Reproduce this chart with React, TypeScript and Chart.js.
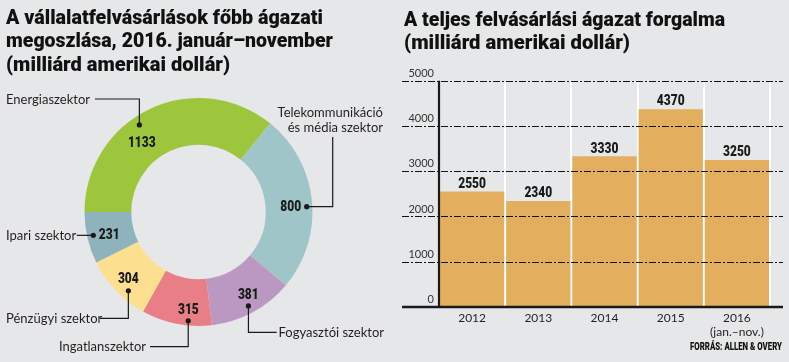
import React, { useEffect, useLayoutEffect, useRef } from 'react';
import { Chart, registerables } from 'chart.js';

Chart.register(...registerables);

// ---------- DATA ----------
const sectors: string[][] = [
  ['Energiaszektor'],
  ['Telekommunikáció', 'és média szektor'],
  ['Fogyasztói szektor'],
  ['Ingatlanszektor'],
  ['Pénzügyi szektor'],
  ['Ipari szektor'],
];
const sectorValues = [1133, 800, 381, 315, 304, 231];
const sectorColors = ['#9dc63c', '#a0c5c8', '#bb98c2', '#e97f86', '#fde08f', '#8fb3bc'];

const years: (string | string[])[] = ['2012', '2013', '2014', '2015', ['2016', '(jan.–nov.)']];
const turnover = [2550, 2340, 3330, 4370, 3250];
const yTickValues = [0, 1000, 2000, 3000, 4000, 5000];

const leftTitle = ['A vállalatfelvásárlások főbb ágazati', 'megoszlása, 2016. január–november', '(milliárd amerikai dollár)'];
const rightTitle = ['A teljes felvásárlási ágazat forgalma', '(milliárd amerikai dollár)'];
const sourceText = 'FORRÁS: ALLEN & OVERY';

// ---------- LAYOUT (annotation placement only) ----------
type Move = ['x' | 'y', number];
const DONUT_LAYOUT: { val: [number, number]; dot: [number, number]; path: Move[]; tx: number; ty: number[]; align: CanvasTextAlign }[] = [
  { val: [320.4, 0.78], dot: [325.8, 0.923], path: [['y', 99], ['x', 95]], tx: 6, ty: [99.5], align: 'left' },
  { val: [87.1, 0.81], dot: [87.2, 0.95], path: [['x', 332.7], ['y', 137]], tx: 383, ty: [112.7, 127.7], align: 'right' },
  { val: [149, 0.849], dot: [152, 0.933], path: [['y', 332.3], ['x', 276.7]], tx: 278.5, ty: [332], align: 'left' },
  { val: [185.9, 0.864], dot: [185.4, 0.958], path: [['y', 346.7], ['x', 150]], tx: 146, ty: [346.7], align: 'right' },
  { val: [226.2, 0.853], dot: [221.7, 0.925], path: [['y', 318.3], ['x', 100]], tx: 6, ty: [318], align: 'left' },
  { val: [255.4, 0.809], dot: [257.5, 0.945], path: [['x', 76.7]], tx: 6, ty: [235.3], align: 'left' },
];

const INK = '#1a1a1a';

function drawScaledText(
  ctx: CanvasRenderingContext2D,
  text: string,
  x: number,
  y: number,
  align: CanvasTextAlign,
  font: string,
  sx: number,
  color: string
) {
  ctx.save();
  ctx.font = font;
  ctx.fillStyle = color;
  ctx.textAlign = align;
  ctx.textBaseline = 'middle';
  ctx.translate(x, y);
  ctx.scale(sx, 1);
  ctx.fillText(text, 0, 0);
  ctx.restore();
}

const donutPlugin = {
  id: 'donutLabels',
  afterDatasetsDraw(chart: any) {
    const ctx: CanvasRenderingContext2D = chart.ctx;
    const meta = chart.getDatasetMeta(0);
    const arc0: any = meta.data[0];
    const cx = arc0.x;
    const cy = arc0.y;
    const R = arc0.outerRadius;
    const polar = (deg: number, f: number) => {
      const a = (deg * Math.PI) / 180;
      return { x: cx + R * f * Math.sin(a), y: cy - R * f * Math.cos(a) };
    };
    ctx.save();
    DONUT_LAYOUT.forEach((L, i) => {
      const v = polar(L.val[0], L.val[1]);
      drawScaledText(ctx, String(sectorValues[i]), v.x, v.y, 'center', '900 15px Roboto', 0.8, INK);
      const d = polar(L.dot[0], L.dot[1]);
      ctx.beginPath();
      ctx.moveTo(d.x, d.y);
      let px = d.x;
      let py = d.y;
      L.path.forEach(([k, val]) => {
        if (k === 'x') px = val;
        else py = val;
        ctx.lineTo(px, py);
      });
      ctx.strokeStyle = INK;
      ctx.lineWidth = 1.2;
      ctx.setLineDash([]);
      ctx.stroke();
      ctx.beginPath();
      ctx.arc(d.x, d.y, 2.6, 0, Math.PI * 2);
      ctx.fillStyle = INK;
      ctx.fill();
      sectors[i].forEach((line, j) => {
        drawScaledText(ctx, line, L.tx, L.ty[j], L.align, '14px Lato', 0.93, '#231f20');
      });
    });
    ctx.restore();
  },
};

const barPlugin = {
  id: 'barDecor',
  afterDatasetsDraw(chart: any) {
    const ctx: CanvasRenderingContext2D = chart.ctx;
    const { left, right, top, bottom } = chart.chartArea;
    const yScale = chart.scales.y;
    ctx.save();
    // dash-dot gridlines drawn over bars
    ctx.strokeStyle = '#111';
    ctx.lineWidth = 1;
    ctx.setLineDash([7, 2, 2, 2]);
    yTickValues.forEach((v) => {
      const y = Math.round(yScale.getPixelForValue(v)) + 0.5;
      ctx.beginPath();
      ctx.moveTo(left - 37, y);
      ctx.lineTo(right + 13, y);
      ctx.stroke();
    });
    ctx.setLineDash([]);
    // axes
    ctx.strokeStyle = INK;
    ctx.lineWidth = 2.2;
    ctx.beginPath();
    ctx.moveTo(left, top);
    ctx.lineTo(left, bottom);
    ctx.stroke();
    ctx.lineWidth = 2.5;
    ctx.beginPath();
    ctx.moveTo(left - 37, bottom);
    ctx.lineTo(right + 13, bottom);
    ctx.stroke();
    // value labels
    const meta = chart.getDatasetMeta(0);
    meta.data.forEach((el: any, i: number) => {
      drawScaledText(ctx, String(turnover[i]), el.x, el.y - 7.5, 'center', '900 15px Roboto', 0.8, INK);
    });
    ctx.restore();
  },
};

function FitText({ text, left, top, width, size, weight }: { text: string; left: number; top: number; width: number; size: number; weight: number }) {
  const ref = useRef<HTMLSpanElement>(null);
  useLayoutEffect(() => {
    const el = ref.current;
    if (!el) return;
    el.style.transform = 'none';
    const w = el.getBoundingClientRect().width;
    if (w > 0) el.style.transform = `scaleX(${width / w})`;
  }, [text, width]);
  return (
    <span
      ref={ref}
      style={{
        position: 'absolute',
        left,
        top,
        whiteSpace: 'nowrap',
        transformOrigin: '0 0',
        fontFamily: 'Roboto, sans-serif',
        fontWeight: weight,
        fontSize: size,
        lineHeight: `${size}px`,
        color: '#111',
      }}
    >
      {text}
    </span>
  );
}

function DonutChart() {
  const ref = useRef<HTMLCanvasElement>(null);
  useEffect(() => {
    if (!ref.current) return;
    const chart = new Chart(ref.current, {
      type: 'doughnut',
      data: {
        labels: sectors.map((s) => s.join(' ')),
        datasets: [{ data: sectorValues, backgroundColor: sectorColors, borderWidth: 0 }],
      },
      options: {
        responsive: false,
        animation: false,
        rotation: -90,
        cutout: '59%',
        layout: { padding: { left: 84, right: 87, top: 98, bottom: 36 } },
        plugins: { legend: { display: false }, tooltip: { enabled: false } },
      },
      plugins: [donutPlugin],
    } as any);
    return () => chart.destroy();
  }, []);
  return <canvas ref={ref} width={400} height={362} style={{ position: 'absolute', left: 0, top: 0, width: 400, height: 362 }} />;
}

function BarChart() {
  const ref = useRef<HTMLCanvasElement>(null);
  useEffect(() => {
    if (!ref.current) return;
    const chart = new Chart(ref.current, {
      type: 'bar',
      data: {
        labels: years,
        datasets: [
          {
            data: turnover,
            backgroundColor: '#e3ae5e',
            borderWidth: 0,
            barPercentage: 1,
            categoryPercentage: 0.97,
          },
        ],
      },
      options: {
        responsive: false,
        animation: false,
        layout: { padding: { left: 0, right: 19, top: 80.7, bottom: 0 } },
        plugins: { legend: { display: false }, tooltip: { enabled: false } },
        scales: {
          x: {
            offset: true,
            grid: { display: true, offset: true, color: '#ffffff', lineWidth: 2, drawTicks: false },
            border: { display: false },
            ticks: { padding: 4, color: '#231f20', font: { family: 'Lato', size: 12 } },
            afterFit: (s: any) => {
              s.height = 55;
            },
          },
          y: {
            min: 0,
            max: 5000,
            grid: { display: false, drawTicks: false },
            border: { display: false },
            ticks: {
              stepSize: 1000,
              padding: 5,
              labelOffset: -7.5,
              color: '#333',
              font: { family: 'Lato', size: 11 },
              callback: (v: any) => String(v),
            },
            afterFit: (s: any) => {
              s.width = 39;
            },
          },
        },
      },
      plugins: [barPlugin],
    } as any);
    return () => chart.destroy();
  }, []);
  return <canvas ref={ref} width={389} height={362} style={{ position: 'absolute', left: 400, top: 0, width: 389, height: 362 }} />;
}

export default function App() {
  const leftWidths = [317, 327, 224];
  const leftTops = [6.8, 30.3, 53.8];
  const rightWidths = [321, 226];
  const rightTops = [9, 32.3];
  return (
    <div style={{ position: 'absolute', left: 0, top: 0, width: 789, height: 362, background: '#e6e7e8', overflow: 'hidden' }}>
      <DonutChart />
      <BarChart />
      {leftTitle.map((t, i) => (
        <FitText key={'l' + i} text={t} left={6} top={leftTops[i]} width={leftWidths[i]} size={21} weight={900} />
      ))}
      {rightTitle.map((t, i) => (
        <FitText key={'r' + i} text={t} left={404} top={rightTops[i]} width={rightWidths[i]} size={21} weight={900} />
      ))}
      <FitText text={sourceText} left={690} top={342.2} width={92} size={10} weight={900} />
    </div>
  );
}
